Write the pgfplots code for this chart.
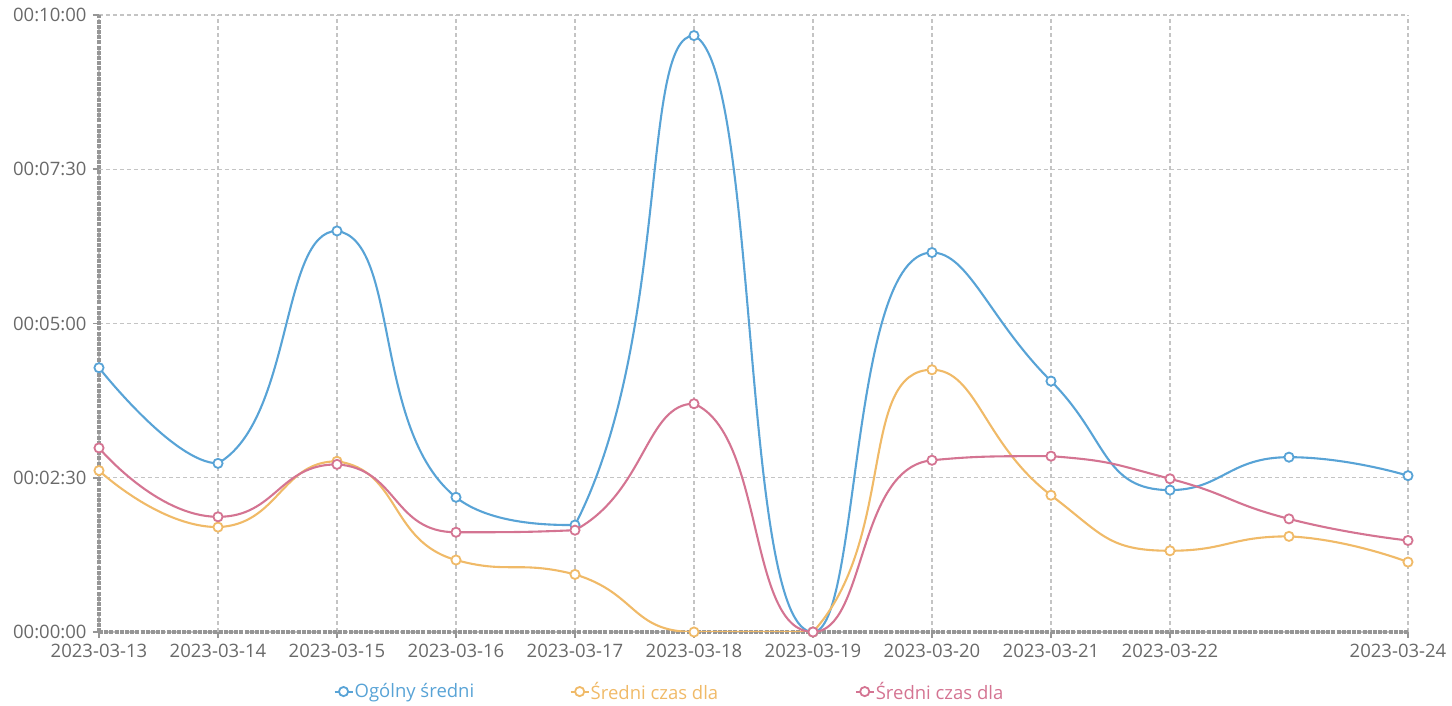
\documentclass[border=0pt]{standalone}
\usepackage{pgfplots}
\pgfplotsset{compat=1.18}
\usepackage{fontspec}
\setmainfont{Open Sans}
\definecolor{cblue}{RGB}{88,163,214}
\definecolor{corange}{RGB}{240,186,104}
\definecolor{cpink}{RGB}{212,116,146}
\definecolor{ctext}{RGB}{105,105,105}
\definecolor{cgrid}{RGB}{196,196,196}
\definecolor{caxis}{RGB}{150,150,150}
\makeatletter
% clamped smooth curve (control points kept within neighbouring values)
\newcount\cc@n
\newcount\cc@k
\def\cc@sm{0.5}
\def\pgfplothandlerclampedsmooth{%
  \def\pgf@plotstreamstart{%
    \global\cc@n=0\relax
    \global\let\pgf@plotstreampoint=\cc@point
    \global\let\pgf@plotstreamspecial=\pgfutil@gobble
    \global\let\pgf@plotstreamend=\cc@end
  }%
}
\def\cc@point#1{%
  \pgf@process{#1}%
  \global\advance\cc@n by 1\relax
  \expandafter\xdef\csname cc@x\the\cc@n\endcsname{\strip@pt\pgf@x}%
  \expandafter\xdef\csname cc@y\the\cc@n\endcsname{\strip@pt\pgf@y}%
}
\def\cc@end{%
  \pgfpathmoveto{\pgfqpoint{\csname cc@x1\endcsname pt}{\csname cc@y1\endcsname pt}}%
  \edef\cc@cpax{\csname cc@x1\endcsname}%
  \edef\cc@cpay{\csname cc@y1\endcsname}%
  \cc@k=2\relax
  \cc@iter
}
\def\cc@clamp#1#2#3{\fpeval{max(min(#1,max(#2,#3)),min(#2,#3))}}
\def\cc@iter{%
  \ifnum\cc@k>\cc@n\relax\else
    \edef\cc@X{\csname cc@x\the\cc@k\endcsname}%
    \edef\cc@Y{\csname cc@y\the\cc@k\endcsname}%
    \edef\cc@PX{\csname cc@x\the\numexpr\cc@k-1\relax\endcsname}%
    \edef\cc@PY{\csname cc@y\the\numexpr\cc@k-1\relax\endcsname}%
    \ifnum\cc@k=\cc@n\relax
      \let\cc@bx\cc@X \let\cc@by\cc@Y
      \let\cc@nx\cc@X \let\cc@ny\cc@Y
    \else
      \edef\cc@NX{\csname cc@x\the\numexpr\cc@k+1\relax\endcsname}%
      \edef\cc@NY{\csname cc@y\the\numexpr\cc@k+1\relax\endcsname}%
      \edef\cc@lp{\fpeval{sqrt((\cc@X-(\cc@PX))^2+(\cc@Y-(\cc@PY))^2)}}%
      \edef\cc@ln{\fpeval{sqrt((\cc@NX-(\cc@X))^2+(\cc@NY-(\cc@Y))^2)}}%
      \edef\cc@vx{\fpeval{\cc@NX-(\cc@PX)}}%
      \edef\cc@vy{\fpeval{\cc@NY-(\cc@PY)}}%
      \edef\cc@r{\fpeval{\cc@ln/(\cc@ln+\cc@lp)}}%
      \edef\cc@nx{\fpeval{\cc@X+(\cc@vx)*\cc@sm*\cc@r}}%
      \edef\cc@ny{\fpeval{\cc@Y+(\cc@vy)*\cc@sm*\cc@r}}%
      \edef\cc@nx{\cc@clamp{\cc@nx}{\cc@NX}{\cc@X}}%
      \edef\cc@ny{\cc@clamp{\cc@ny}{\cc@NY}{\cc@Y}}%
      \edef\cc@vx{\fpeval{\cc@nx-(\cc@X)}}%
      \edef\cc@vy{\fpeval{\cc@ny-(\cc@Y)}}%
      \edef\cc@bx{\fpeval{\cc@X-(\cc@vx)*\cc@lp/\cc@ln}}%
      \edef\cc@by{\fpeval{\cc@Y-(\cc@vy)*\cc@lp/\cc@ln}}%
      \edef\cc@bx{\cc@clamp{\cc@bx}{\cc@PX}{\cc@X}}%
      \edef\cc@by{\cc@clamp{\cc@by}{\cc@PY}{\cc@Y}}%
      \edef\cc@nx{\fpeval{round(\cc@nx,4)}}%
      \edef\cc@ny{\fpeval{round(\cc@ny,4)}}%
      \edef\cc@bx{\fpeval{round(\cc@bx,4)}}%
      \edef\cc@by{\fpeval{round(\cc@by,4)}}%
    \fi
    \pgfpathcurveto{\pgfqpoint{\cc@cpax pt}{\cc@cpay pt}}{\pgfqpoint{\cc@bx pt}{\cc@by pt}}{\pgfqpoint{\cc@X pt}{\cc@Y pt}}%
    \let\cc@cpax\cc@nx
    \let\cc@cpay\cc@ny
    \advance\cc@k by 1\relax
    \expandafter\cc@iter
  \fi
}
\tikzset{clamped smooth/.code={\let\tikz@plot@handler=\pgfplothandlerclampedsmooth}}
\makeatother
\begin{document}
\begin{tikzpicture}
\useasboundingbox (-99pt,-74pt) rectangle (1353pt,632pt);
\begin{axis}[
  scale only axis, width=1309pt, height=617pt,
  xmin=0, xmax=11, ymin=0, ymax=600,
  axis x line=bottom, axis y line=left,
  axis line style={-, caxis, line width=3.2pt, dash pattern=on 4pt off 1.2pt},
  xtick={0,1,2,3,4,5,6,7,8,9,11},
  xticklabels={2023-03-13,2023-03-14,2023-03-15,2023-03-16,2023-03-17,2023-03-18,2023-03-19,2023-03-20,2023-03-21,2023-03-22,2023-03-24\hspace*{20pt}},
  ytick={0,150,300,450,600},
  yticklabels={00:00:00,00:02:30,00:05:00,00:07:30,00:10:00},
  tick label style={font=\fontsize{18.5}{20}\selectfont, text=ctext},
  xticklabel style={yshift=-3pt},
  yticklabel style={xshift=-3pt},
  tick style={caxis, line width=1.8pt, solid},
  major tick length=6pt,
  tick align=outside,
  grid=major,
  grid style={cgrid, line width=1.2pt, dash pattern=on 4pt off 3pt},
  clip mode=individual,
  legend columns=3,
  legend style={at={(axis description cs:0.179,0)}, anchor=north west, yshift=-49pt,
    draw=none, fill=none, inner sep=0pt, column sep=0pt,
    font=\fontsize{18.5}{20}\selectfont,
    nodes={inner sep=1pt}},
  legend image code/.code={\draw[mark repeat=2,mark phase=2,#1] plot coordinates {(0pt,0pt) (9pt,0pt) (18pt,0pt)};},
  every axis plot/.append style={clamped smooth, line width=2.1pt, mark=*, mark size=4.6pt, mark options={fill=white, solid, line width=1.8pt}},
]
\addplot[cblue] coordinates {(0,257) (1,164) (2,390) (3,131) (4,104) (5,580) (6,0) (7,369) (8,244) (9,138) (10,170) (11,152)};
\addlegendentry{\makebox[214pt][l]{\textcolor{cblue}{Ogólny średni}}}
\addplot[corange] coordinates {(0,157) (1,102) (2,166) (3,70) (4,56) (5,0) (6,0) (7,255) (8,133) (9,79) (10,93) (11,68)};
\addlegendentry{\makebox[263pt][l]{\textcolor{corange}{Średni czas dla}}}
\addplot[cpink] coordinates {(0,179) (1,112) (2,163) (3,97) (4,99) (5,222) (6,0) (7,167) (8,171) (9,149) (10,110) (11,89)};
\addlegendentry{\makebox[160pt][l]{\textcolor{cpink}{Średni czas dla}}}
\end{axis}
\end{tikzpicture}
\end{document}
